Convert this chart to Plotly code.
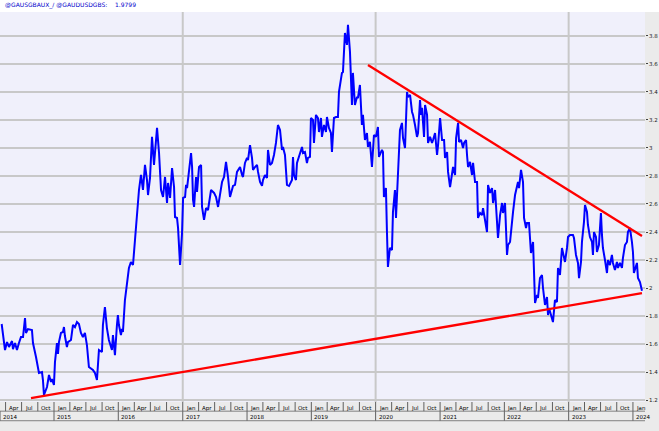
import plotly.graph_objects as go
import pandas as pd

# ---- data (decimal year, value) ----
t = [2014.186,2014.238,2014.269,2014.300,2014.347,2014.362,2014.393,2014.424,2014.455,2014.486,2014.518,2014.549,2014.564,2014.595,2014.657,2014.673,2014.720,2014.751,2014.766,2014.813,2014.828,2014.844,2014.891,2014.922,2014.953,2014.968,2014.999,
2015.015,2015.046,2015.062,2015.077,2015.108,2015.139,2015.155,2015.170,2015.201,2015.217,2015.264,2015.295,2015.326,2015.357,2015.388,2015.419,2015.450,2015.481,2015.512,2015.543,2015.606,2015.637,2015.668,2015.699,2015.746,2015.761,2015.792,2015.823,2015.854,2015.901,2015.917,2015.948,2015.979,2015.994,
2016.010,2016.041,2016.057,2016.072,2016.103,2016.134,2016.165,2016.196,2016.228,2016.259,2016.290,2016.321,2016.352,2016.383,2016.414,2016.445,2016.461,2016.492,2016.523,2016.554,2016.601,2016.632,2016.663,2016.694,2016.725,2016.756,2016.772,2016.803,2016.834,2016.865,2016.880,2016.911,2016.927,2016.958,2016.989,
2017.005,2017.036,2017.051,2017.067,2017.098,2017.129,2017.145,2017.160,2017.176,2017.207,2017.222,2017.253,2017.285,2017.300,2017.331,2017.362,2017.393,2017.440,2017.487,2017.518,2017.549,2017.580,2017.611,2017.642,2017.673,2017.704,2017.735,2017.782,2017.813,2017.844,2017.860,2017.891,2017.922,2017.937,2017.968,
2018.000,2018.015,2018.046,2018.077,2018.093,2018.124,2018.155,2018.171,2018.202,2018.233,2018.248,2018.279,2018.310,2018.326,2018.357,2018.388,2018.419,2018.450,2018.481,2018.513,2018.544,2018.559,2018.590,2018.621,2018.653,2018.699,2018.715,2018.730,2018.761,2018.777,2018.808,2018.839,2018.855,2018.870,2018.901,2018.932,2018.948,2018.979,2018.994,
2019.026,2019.041,2019.072,2019.103,2019.119,2019.150,2019.165,2019.197,2019.228,2019.243,2019.274,2019.305,2019.321,2019.352,2019.383,2019.414,2019.430,2019.476,2019.492,2019.523,2019.554,2019.570,2019.601,2019.632,2019.647,2019.678,2019.710,2019.725,2019.756,2019.787,2019.803,2019.834,2019.865,2019.881,2019.912,2019.943,2019.974,
2020.005,2020.036,2020.052,2020.098,2020.114,2020.129,2020.160,2020.176,2020.191,2020.222,2020.254,2020.269,2020.300,2020.316,2020.347,2020.378,2020.409,2020.425,2020.456,2020.487,2020.502,2020.534,2020.565,2020.580,2020.611,2020.642,2020.658,2020.689,2020.704,2020.720,2020.751,2020.767,2020.798,2020.813,2020.844,2020.875,2020.891,2020.922,2020.953,2020.969,
2021.000,2021.015,2021.031,2021.062,2021.077,2021.109,2021.124,2021.155,2021.186,2021.202,2021.233,2021.249,2021.280,2021.295,2021.326,2021.357,2021.373,2021.404,2021.419,2021.435,2021.466,2021.497,2021.513,2021.544,2021.575,2021.590,2021.622,2021.653,2021.668,2021.699,2021.730,2021.746,2021.777,2021.808,2021.824,2021.855,2021.886,2021.901,2021.933,2021.964,2021.979,
2022.010,2022.041,2022.057,2022.088,2022.119,2022.135,2022.166,2022.197,2022.212,2022.228,2022.259,2022.290,2022.306,2022.337,2022.352,2022.383,2022.414,2022.446,2022.461,2022.477,2022.508,2022.523,2022.554,2022.585,2022.601,2022.632,2022.663,2022.679,2022.694,2022.725,2022.756,2022.787,2022.818,2022.834,2022.865,2022.896,2022.912,2022.943,2022.974,2022.990,
2023.021,2023.067,2023.083,2023.114,2023.145,2023.161,2023.192,2023.207,2023.238,2023.254,2023.285,2023.300,2023.331,2023.363,2023.378,2023.394,2023.425,2023.440,2023.471,2023.502,2023.518,2023.533,2023.565,2023.596,2023.611,2023.642,2023.673,2023.689,2023.720,2023.751,2023.767,2023.798,2023.829,2023.844,2023.876,2023.907,2023.922,2023.953,2023.984,
2024.000,2024.015,2024.046,2024.062,2024.078,2024.109,2024.140]

v = [1.743,1.557,1.614,1.579,1.621,1.564,1.607,1.557,1.607,1.650,1.650,1.786,1.679,1.707,1.700,1.607,1.507,1.436,1.393,1.400,1.343,1.236,1.293,1.379,1.329,1.350,1.307,
1.471,1.607,1.529,1.614,1.679,1.686,1.721,1.657,1.579,1.614,1.629,1.736,1.721,1.757,1.743,1.679,1.650,1.679,1.593,1.436,1.414,1.393,1.343,1.557,1.543,1.736,1.864,1.714,1.629,1.557,1.664,1.521,1.736,1.807,
1.736,1.664,1.707,1.686,1.914,2.021,2.143,2.186,2.164,2.343,2.521,2.700,2.807,2.700,2.879,2.771,2.664,2.786,3.079,2.879,3.143,2.964,2.700,2.650,2.793,2.607,2.750,2.643,2.857,2.721,2.507,2.500,2.429,2.164,2.393,
2.643,2.650,2.736,2.714,2.857,2.964,2.864,2.629,2.579,2.793,2.686,2.864,2.879,2.579,2.486,2.571,2.557,2.700,2.679,2.650,2.579,2.686,2.757,2.793,2.900,2.793,2.650,2.729,2.736,2.829,2.843,2.864,2.807,2.793,2.893,
2.929,2.914,3.021,2.929,2.843,2.864,2.879,2.829,2.757,2.729,2.771,2.807,2.786,2.986,2.879,2.893,2.950,3.036,3.164,3.129,2.986,3.007,2.950,2.736,2.729,2.771,2.936,2.807,2.771,2.893,2.936,2.971,3.007,2.964,2.971,2.893,2.929,2.936,3.214,
3.200,3.036,3.236,3.214,3.114,3.214,3.079,3.164,3.114,3.221,3.143,3.107,2.971,3.214,3.221,3.221,3.400,3.536,3.543,3.821,3.736,3.879,3.686,3.307,3.536,3.307,3.364,3.357,3.450,3.164,3.236,3.057,3.107,3.007,3.043,2.864,3.093,
3.079,3.150,2.936,2.986,2.971,2.650,2.714,2.400,2.150,2.286,2.271,2.543,2.700,2.500,2.857,3.129,3.179,3.071,3.000,3.400,3.364,3.379,3.257,3.236,3.164,3.079,3.107,3.343,3.236,3.286,3.079,3.307,3.236,3.036,3.079,3.036,3.057,3.107,2.950,3.021,
3.214,3.107,3.057,3.057,2.929,2.971,2.829,2.721,2.821,2.864,2.807,3.071,3.179,3.043,3.057,3.000,3.036,3.057,2.950,2.864,2.900,2.807,2.893,2.757,2.757,2.500,2.536,2.521,2.571,2.471,2.400,2.736,2.679,2.714,2.607,2.700,2.500,2.357,2.521,2.607,2.536,
2.607,2.236,2.307,2.329,2.500,2.543,2.664,2.714,2.757,2.714,2.843,2.757,2.500,2.429,2.464,2.464,2.250,2.329,2.043,1.893,1.950,1.929,2.071,2.093,2.000,1.879,1.936,1.807,1.857,1.807,1.757,1.914,1.900,2.143,2.093,2.286,2.257,2.186,2.286,2.364,
2.379,2.379,2.357,2.236,2.179,2.071,2.186,2.329,2.471,2.593,2.543,2.450,2.364,2.329,2.236,2.400,2.364,2.257,2.307,2.536,2.379,2.286,2.200,2.107,2.200,2.164,2.236,2.179,2.129,2.186,2.143,2.179,2.143,2.214,2.307,2.329,2.400,2.429,2.329,
2.257,2.107,2.164,2.179,2.071,2.043,1.9799]

# trend lines (decimal year, value)
upper_t = [2019.881, 2024.140]
upper_v = [3.593, 2.371]
lower_t = [2014.642, 2024.140]
lower_v = [1.214, 1.964]

y_ticks = [1.2, 1.4, 1.6, 1.8, 2.0, 2.2, 2.4, 2.6, 2.8, 3.0, 3.2, 3.4, 3.6, 3.8]
y_labels = ["1.2", "1.4", "1.6", "1.8", "2", "2.2", "2.4", "2.6", "2.8", "3", "3.2", "3.4", "3.6", "3.8"]
years = list(range(2014, 2025))
month_names = {1: "Jan", 4: "Apr", 7: "Jul", 10: "Oct"}
grid_years = [2017, 2020, 2023]
title_text = "@GAUSGBAUX_/ @GAUDUSDGBS:"
last_value = "1.9799"


def to_date(dec):
    y = int(dec)
    start = pd.Timestamp(year=y, month=1, day=1)
    end = pd.Timestamp(year=y + 1, month=1, day=1)
    return start + (end - start) * (dec - y)


x = [to_date(d) for d in t]
x_start = to_date(2014.160)
x_end = to_date(2024.187)

fig = go.Figure()
fig.add_trace(go.Scatter(x=x, y=v, mode="lines",
                         line=dict(color="#0000ff", width=2), hoverinfo="skip"))
fig.add_trace(go.Scatter(x=[to_date(d) for d in upper_t], y=upper_v, mode="lines",
                         line=dict(color="#ff0000", width=2.3), hoverinfo="skip"))
fig.add_trace(go.Scatter(x=[to_date(d) for d in lower_t], y=lower_v, mode="lines",
                         line=dict(color="#ff0000", width=2.3), hoverinfo="skip"))

shapes = []
# top white title strip
shapes.append(dict(type="rect", xref="paper", yref="paper", x0=0, x1=1.03, y0=1, y1=1.04,
                   fillcolor="white", line=dict(width=0), layer="below"))
# vertical grid lines
for gy in grid_years:
    d = pd.Timestamp(year=gy, month=1, day=1)
    shapes.append(dict(type="line", xref="x", yref="paper", x0=d, x1=d, y0=0, y1=1,
                       line=dict(color="#c8c8c8", width=2), layer="below"))
# separator lines in bottom strip
shapes.append(dict(type="line", xref="paper", yref="paper", x0=0, x1=1, y0=-0.0235, y1=-0.0235,
                   line=dict(color="#808080", width=1)))
shapes.append(dict(type="line", xref="paper", yref="paper", x0=0, x1=1, y0=-0.048, y1=-0.048,
                   line=dict(color="#808080", width=1)))

annotations = []
annotations.append(dict(xref="paper", yref="paper", x=0, y=1, xanchor="left", yanchor="bottom",
                        xshift=3, yshift=1, showarrow=False,
                        text=title_text + "&nbsp;&nbsp;&nbsp;&nbsp;" + last_value,
                        font=dict(family="DejaVu Sans", size=6, color="#0000cc")))
for yr in years:
    for m, name in month_names.items():
        d = pd.Timestamp(year=yr, month=m, day=1)
        if d < x_start or d > x_end:
            continue
        annotations.append(dict(xref="x", yref="paper", x=d, y=0, xanchor="left", yanchor="middle",
                                xshift=1, yshift=-6, showarrow=False, text=name,
                                font=dict(family="DejaVu Sans", size=5.5, color="#000000")))
        shapes.append(dict(type="line", xref="x", yref="paper", x0=d, x1=d, y0=0, y1=-0.0235,
                           line=dict(color="#606060", width=1)))
    d = pd.Timestamp(year=yr, month=1, day=1)
    if d < x_start:
        d = x_start
    annotations.append(dict(xref="x", yref="paper", x=d, y=0, xanchor="left", yanchor="middle",
                            xshift=1, yshift=-15, showarrow=False, text=str(yr),
                            font=dict(family="DejaVu Sans", size=5.5, color="#000000")))
    shapes.append(dict(type="line", xref="x", yref="paper", x0=d, x1=d, y0=-0.0235, y1=-0.048,
                       line=dict(color="#606060", width=1)))

fig.update_layout(
    width=659, height=431,
    margin=dict(l=0, r=14, t=12, b=29),
    paper_bgcolor="#ebebeb",
    plot_bgcolor="#f0f0fb",
    showlegend=False,
    shapes=shapes,
    annotations=annotations,
    xaxis=dict(range=[x_start, x_end], showgrid=False, showticklabels=False,
               zeroline=False, showline=False, ticks=""),
    yaxis=dict(range=[1.186, 3.971], side="right", tickvals=y_ticks, ticktext=y_labels,
               showgrid=True, gridcolor="#c8c8c8", gridwidth=1.5, zeroline=False,
               ticks="outside", ticklen=2, tickcolor="#404040", automargin=False,
               tickfont=dict(family="DejaVu Sans", size=5.5, color="#202020")),
)

fig.write_html("out.html", config={"displayModeBar": False},
               post_script="document.body.style.margin='0px';document.body.style.overflow='hidden';")
